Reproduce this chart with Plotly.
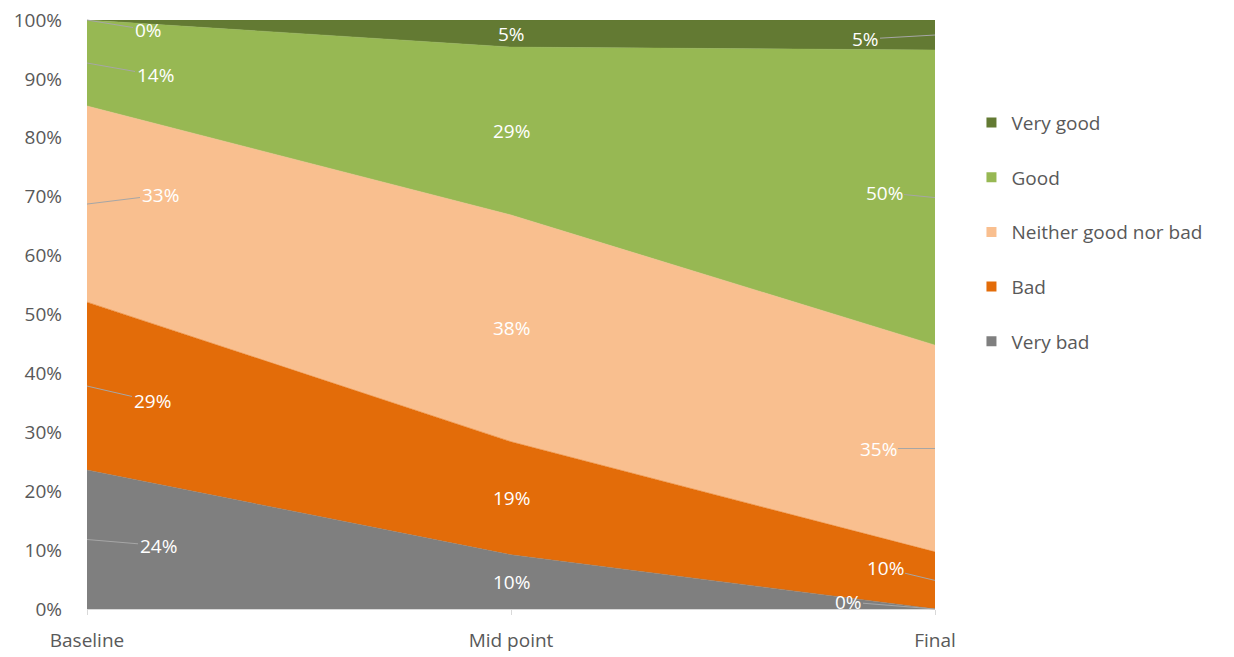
import plotly.graph_objects as go

# ---- data ----
categories = ["Baseline", "Mid point", "Final"]
series_names = ["Very bad", "Bad", "Neither good nor bad", "Good", "Very good"]
very_bad = [23.6, 9.2, 0.0]
bad = [28.5, 19.2, 9.7]
neither = [33.3, 38.5, 35.1]
good = [14.6, 28.5, 50.1]
very_good = [0.0, 4.6, 5.1]
labels_very_bad = ["24%", "10%", "0%"]
labels_bad = ["29%", "19%", "10%"]
labels_neither = ["33%", "38%", "35%"]
labels_good = ["14%", "29%", "50%"]
labels_very_good = ["0%", "5%", "5%"]
y_ticks = [0, 10, 20, 30, 40, 50, 60, 70, 80, 90, 100]
y_tick_labels = ["0%", "10%", "20%", "30%", "40%", "50%", "60%", "70%", "80%", "90%", "100%"]

values = [very_bad, bad, neither, good, very_good]
labels = [labels_very_bad, labels_bad, labels_neither, labels_good, labels_very_good]
colors = ["#7f7f7f", "#e36c09", "#f9bf8f", "#97b853", "#637a33"]

# label offsets (pixels) for callouts at Baseline (idx 0) and Final (idx 2)
off_base = [(71, 6), (65, 15), (73, -9), (68, 12), (61, 10)]
off_final = [(-87, -7), (-50, -12), (-57, 0), (-51, -5), (-70, 4)]

FONT = "Open Sans"
FS = 19
fig = go.Figure()

for name, vals, col in zip(series_names, values, colors):
    fig.add_trace(go.Scatter(
        x=categories, y=vals, name=name, stackgroup="one", mode="lines",
        line=dict(width=0.5, color=col), fillcolor=col, showlegend=False,
        hoverinfo="skip"))

# legend proxies (top: Very good)
for i in reversed(range(len(series_names))):
    fig.add_trace(go.Scatter(
        x=[None], y=[None], mode="markers", name=series_names[i],
        legendgroup=series_names[i],
        marker=dict(symbol="square", size=10, color=colors[i])))

# data labels
annotations = []
cum = [0.0, 0.0, 0.0]
for s, (vals, labs) in enumerate(zip(values, labels)):
    for j, cat in enumerate(categories):
        mid = cum[j] + vals[j] / 2.0
        if j == 1:
            annotations.append(dict(x=cat, y=mid, text=labs[j], showarrow=False,
                                    font=dict(family=FONT, size=FS, color="white")))
        else:
            ax, ay = off_base[s] if j == 0 else off_final[s]
            annotations.append(dict(x=cat, y=mid, text=labs[j], showarrow=True,
                                    arrowhead=0, arrowwidth=1, arrowcolor="#a6a6a6",
                                    ax=ax, ay=ay, standoff=0,
                                    font=dict(family=FONT, size=FS, color="white")))
    cum = [c + v for c, v in zip(cum, vals)]

fig.update_layout(
    width=1234, height=657,
    margin=dict(l=87, r=299, t=20, b=48, autoexpand=False),
    paper_bgcolor="white", plot_bgcolor="white",
    font=dict(family=FONT, size=FS, color="#595959"),
    annotations=annotations,
    legend=dict(x=1.043, y=0.858, xanchor="left", yanchor="top",
                traceorder="grouped", tracegroupgap=27,
                font=dict(family=FONT, size=FS, color="#595959"),
                itemwidth=30),
    xaxis=dict(type="category", range=[0, 2], showgrid=False, zeroline=False,
               automargin=False,
               showline=True, linecolor="#d9d9d9", ticks="outside", ticklen=5,
               tickcolor="#d9d9d9", ticklabelstandoff=9,
               tickfont=dict(family=FONT, size=FS, color="#595959")),
    yaxis=dict(range=[0, 100], tickvals=y_ticks, ticktext=y_tick_labels,
               showgrid=False, automargin=False,
               zeroline=False, showline=False, ticklabelstandoff=24,
               tickfont=dict(family=FONT, size=FS, color="#595959")),
)

fig.write_html("out.html")
